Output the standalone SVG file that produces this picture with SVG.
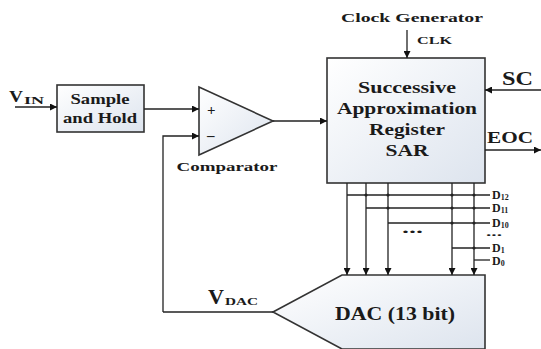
<svg xmlns="http://www.w3.org/2000/svg" width="541" height="349" viewBox="0 0 541 349">
<defs>
<linearGradient id="g" x1="0" y1="0" x2="1" y2="1">
<stop offset="0" stop-color="#ffffff"/>
<stop offset="1" stop-color="#dde4ee"/>
</linearGradient>
<marker id="a" viewBox="0 0 10 10" refX="10" refY="5" markerWidth="9" markerHeight="7" markerUnits="userSpaceOnUse" orient="auto">
<path d="M0,0 L10,5 L0,10 z" fill="#111"/>
</marker>
</defs>
<style>
.box{fill:url(#g);stroke:#333;stroke-width:1.6}
.ln{fill:none;stroke:#222;stroke-width:1.3}
.ar{fill:none;stroke:#222;stroke-width:1.3;marker-end:url(#a)}
text{font-family:"Liberation Serif",serif;font-weight:bold;fill:#1a1a1a}
.c{text-anchor:middle}
.dot{fill:#222}
</style>
<rect width="541" height="349" fill="#fff"/>

<g id="vin">
<text x="9" y="102" font-size="17" textLength="14" lengthAdjust="spacingAndGlyphs">V</text>
<text x="24" y="104" font-size="10" textLength="20" lengthAdjust="spacingAndGlyphs">IN</text>
</g>

<g id="sample-hold">
<rect class="box" x="57" y="85" width="87" height="47"/>
<text class="c" x="100" y="104" font-size="14" textLength="59" lengthAdjust="spacingAndGlyphs">Sample</text>
<text class="c" x="100" y="123" font-size="14" textLength="74" lengthAdjust="spacingAndGlyphs">and Hold</text>
</g>

<g id="comparator">
<polygon class="box" points="199,87 199,155 273,121"/>
<text x="207" y="115" font-size="15">+</text>
<text x="207" y="140" font-size="15">–</text>
<text class="c" x="227" y="171" font-size="13" textLength="101" lengthAdjust="spacingAndGlyphs">Comparator</text>
</g>

<g id="sar">
<rect class="box" x="327" y="58" width="158" height="125"/>
<text class="c" x="407" y="93" font-size="17" textLength="98" lengthAdjust="spacingAndGlyphs">Successive</text>
<text class="c" x="407" y="114" font-size="17" textLength="140" lengthAdjust="spacingAndGlyphs">Approximation</text>
<text class="c" x="407" y="135" font-size="17" textLength="76" lengthAdjust="spacingAndGlyphs">Register</text>
<text class="c" x="407" y="156" font-size="17" textLength="43" lengthAdjust="spacingAndGlyphs">SAR</text>
</g>

<g id="clock">
<text class="c" x="412" y="22" font-size="13" textLength="142" lengthAdjust="spacingAndGlyphs">Clock Generator</text>
<text x="417" y="44" font-size="10" textLength="35" lengthAdjust="spacingAndGlyphs">CLK</text>
</g>

<g id="sc"><text x="502" y="85" font-size="18" textLength="31" lengthAdjust="spacingAndGlyphs">SC</text></g>
<g id="eoc"><text x="487" y="143" font-size="17" textLength="46" lengthAdjust="spacingAndGlyphs">EOC</text></g>

<g id="dac">
<polygon class="box" points="273,312 342,275 485,275 485,349 342,349"/>
<text class="c" x="395" y="320" font-size="19" textLength="120" lengthAdjust="spacingAndGlyphs">DAC (13 bit)</text>
</g>

<g id="vdac">
<text x="208" y="304" font-size="20" textLength="16" lengthAdjust="spacingAndGlyphs">V</text>
<text x="225" y="305" font-size="11" textLength="33" lengthAdjust="spacingAndGlyphs">DAC</text>
</g>

<g id="bits">
<text x="492" y="199" font-size="12">D<tspan font-size="8" dy="1">12</tspan></text>
<text x="492" y="212" font-size="12">D<tspan font-size="8" dy="1">11</tspan></text>
<text x="492" y="227" font-size="12">D<tspan font-size="8" dy="1">10</tspan></text>
<text x="486" y="236" font-size="10" textLength="16" lengthAdjust="spacingAndGlyphs">...</text>
<text x="492" y="252" font-size="12">D<tspan font-size="8" dy="1">1</tspan></text>
<text x="492" y="265" font-size="12">D<tspan font-size="8" dy="1">0</tspan></text>
<text x="402" y="233" font-size="14" textLength="21" lengthAdjust="spacingAndGlyphs">...</text>
</g>

<g id="connectors">
<path class="ar" d="M15,107 L57,107"/>
<path class="ar" d="M144,109 L199,109"/>
<path class="ar" d="M163,312 L163,136 L199,136"/>
<path class="ln" d="M273,312 L163,312"/>
<path class="ar" d="M273,121 L327,121"/>
<path class="ar" d="M407,30 L407,58"/>
<path class="ar" d="M541,90 L485,90"/>
<path class="ar" d="M485,150 L541,150"/>
<path class="ar" d="M347,183 L347,275"/>
<path class="ar" d="M366,183 L366,275"/>
<path class="ar" d="M388,183 L388,275"/>
<path class="ar" d="M452,183 L452,275"/>
<path class="ar" d="M474,183 L474,275"/>
<path class="ln" d="M347,195 L490,195"/>
<path class="ln" d="M366,208 L490,208"/>
<path class="ln" d="M388,223 L490,223"/>
<path class="ln" d="M452,248 L490,248"/>
<path class="ln" d="M474,260 L490,260"/>
<circle class="dot" cx="366" cy="195" r="1.6"/>
<circle class="dot" cx="388" cy="195" r="1.6"/>
<circle class="dot" cx="452" cy="195" r="1.6"/>
<circle class="dot" cx="474" cy="195" r="1.6"/>
<circle class="dot" cx="388" cy="208" r="1.6"/>
<circle class="dot" cx="452" cy="208" r="1.6"/>
<circle class="dot" cx="474" cy="208" r="1.6"/>
<circle class="dot" cx="452" cy="223" r="1.6"/>
<circle class="dot" cx="474" cy="223" r="1.6"/>
<circle class="dot" cx="474" cy="248" r="1.6"/>
</g>
</svg>
